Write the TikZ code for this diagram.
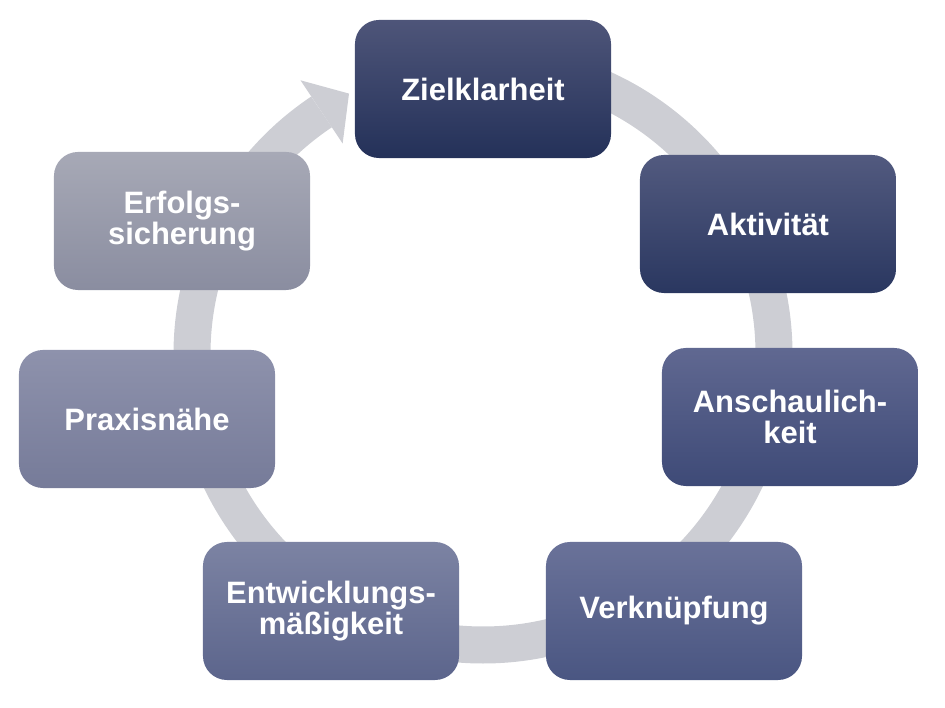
\documentclass[tikz,border=0pt]{standalone}
\usepackage{fontspec}
\setmainfont{Liberation Sans}
\usetikzlibrary{calc}
\definecolor{ringgray}{RGB}{205, 206, 212}
\definecolor{zieltop}{RGB}{78, 85, 121}
\definecolor{zielbot}{RGB}{36, 49, 89}
\definecolor{akttop}{RGB}{82, 90, 127}
\definecolor{aktbot}{RGB}{42, 55, 96}
\definecolor{anschtop}{RGB}{96, 104, 145}
\definecolor{anschbot}{RGB}{62, 74, 119}
\definecolor{verktop}{RGB}{106, 114, 153}
\definecolor{verkbot}{RGB}{74, 86, 130}
\definecolor{entwtop}{RGB}{124, 131, 163}
\definecolor{entwbot}{RGB}{92, 101, 140}
\definecolor{praxtop}{RGB}{142, 146, 172}
\definecolor{praxbot}{RGB}{118, 123, 153}
\definecolor{erfolgtop}{RGB}{167, 169, 182}
\definecolor{erfolgbot}{RGB}{138, 141, 160}

\begin{document}
\begin{tikzpicture}[x=0.025cm, y=0.025cm,
    stage/.style={rounded corners=0.6cm, minimum width=6.4cm, minimum height=3.45cm,
        text=white, align=center, inner sep=0pt,
        font=\bfseries\fontsize{22}{22.5}\selectfont}]
    \useasboundingbox (0,0) rectangle (945,708);

    % ring with arrow
    \coordinate (mid) at (483,354);
    \draw[ringgray, line width=0.925cm]
        (mid) ++(90:291) arc[start angle=90, end angle=-236.3, radius=291];
    \fill[ringgray] ($(mid)+(123.7:329)$) -- ($(mid)+(123.7:291)+(33.7:33)$)
        -- ($(mid)+(123.7:253)$) -- cycle;

    \node[stage, top color=zieltop, bottom color=zielbot] (ziel) at (483,619) {Zielklarheit};
    \node[stage, top color=akttop, bottom color=aktbot] (akt) at (768,484) {Aktivität};
    \node[stage, top color=anschtop, bottom color=anschbot] (ansch) at (790,291) {Anschaulich-\\keit};
    \node[stage, top color=verktop, bottom color=verkbot] (verk) at (674,97) {Verknüpfung};
    \node[stage, top color=entwtop, bottom color=entwbot] (entw) at (331,97) {Entwicklungs-\\mäßigkeit};
    \node[stage, top color=praxtop, bottom color=praxbot] (prax) at (147,289) {Praxisnähe};
    \node[stage, top color=erfolgtop, bottom color=erfolgbot] (erfolg) at (182,487) {Erfolgs-\\sicherung};
\end{tikzpicture}
\end{document}
